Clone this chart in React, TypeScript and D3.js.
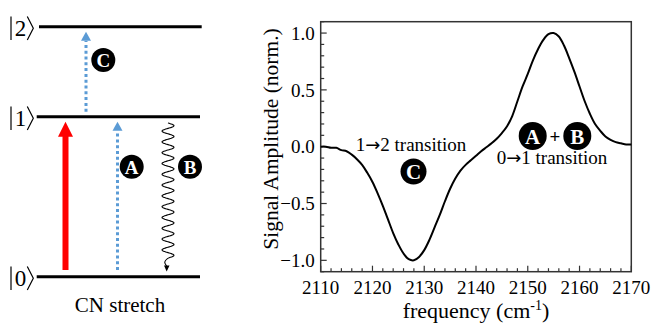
import React, { useEffect, useRef } from 'react';
import * as d3 from 'd3';

// spectrum (frequency in cm-1, normalised amplitude)
const freq = [
  2110, 2111, 2112, 2113, 2114, 2115, 2116, 2117, 2118, 2119,
  2120, 2121, 2122, 2123, 2124, 2125, 2126, 2127, 2128, 2129,
  2130, 2131, 2132, 2133, 2134, 2135, 2136, 2137, 2138, 2139,
  2140, 2141, 2142, 2143, 2144, 2145, 2146, 2147, 2148, 2149,
  2150, 2151, 2152, 2153, 2154, 2155, 2156, 2157, 2158, 2159,
  2160, 2161, 2162, 2163, 2164, 2165, 2166, 2167, 2168, 2169, 2170,
];
const amplitude = [
  0.0, 0.0, -0.01, -0.01, -0.03, -0.04, -0.07, -0.11, -0.16, -0.23,
  -0.31, -0.41, -0.52, -0.64, -0.76, -0.86, -0.94, -0.99, -1.0, -0.97,
  -0.91, -0.82, -0.71, -0.6, -0.48, -0.37, -0.28, -0.21, -0.16, -0.12,
  -0.08, -0.04, -0.005, 0.03, 0.07, 0.12, 0.18, 0.27, 0.4, 0.53,
  0.64, 0.76, 0.86, 0.94, 0.99, 1.0, 0.97, 0.89, 0.78, 0.66,
  0.53, 0.4, 0.29, 0.2, 0.14, 0.09, 0.06, 0.04, 0.03, 0.02, 0.02,
];
const xTicks = [2110, 2120, 2130, 2140, 2150, 2160, 2170];
const yTicks = [-1.0, -0.5, 0.0, 0.5, 1.0];

// energy level diagram
const levelNames = ['0', '1', '2'];
const levelEnergy = [0, 1, 1.5625];

const W = 654;
const H = 325;
const BLUE = '#5b9bd5';
const SERIF = "'Liberation Serif', 'Times New Roman', serif";

const App = () => {
  const svgRef = useRef<SVGSVGElement>(null);

  useEffect(() => {
    const svg = d3.select(svgRef.current);
    svg.selectAll('*').remove();

    // ---------- right: spectrum ----------
    const plot = { left: 320.7, right: 631.3, top: 21.7, bottom: 271.7 };
    const x = d3.scaleLinear().domain([2110, 2170]).range([plot.left, plot.right]);
    const y = d3.scaleLinear().domain([-1.1, 1.1]).range([plot.bottom, plot.top]);

    const g = svg.append('g');

    // minor + major ticks, inward, left and bottom only
    d3.range(2110, 2171, 2).forEach(v => {
      const major = v % 10 === 0;
      g.append('line')
        .attr('x1', x(v)).attr('x2', x(v))
        .attr('y1', plot.bottom).attr('y2', plot.bottom - (major ? 6 : 3.5))
        .attr('stroke', '#333').attr('stroke-width', 1.2);
    });
    d3.range(-11, 12).forEach(i => {
      const v = i / 10;
      const major = i % 5 === 0;
      g.append('line')
        .attr('x1', plot.left).attr('x2', plot.left + (major ? 6 : 3.5))
        .attr('y1', y(v)).attr('y2', y(v))
        .attr('stroke', '#333').attr('stroke-width', 1.2);
    });

    g.append('rect')
      .attr('x', plot.left).attr('y', plot.top)
      .attr('width', plot.right - plot.left).attr('height', plot.bottom - plot.top)
      .attr('fill', 'none').attr('stroke', '#333').attr('stroke-width', 1.5);

    g.selectAll('.xt').data(xTicks).enter().append('text')
      .attr('x', d => x(d)).attr('y', 294)
      .attr('text-anchor', 'middle')
      .style('font-family', SERIF).style('font-size', '19px')
      .text(d => d);

    g.selectAll('.yt').data(yTicks).enter().append('text')
      .attr('x', plot.left - 6).attr('y', d => y(d)).attr('dy', '0.35em')
      .attr('text-anchor', 'end')
      .style('font-family', SERIF).style('font-size', '19px')
      .text(d => d3.format('.1f')(d));

    const xl = g.append('text')
      .attr('x', (plot.left + plot.right) / 2).attr('y', 318)
      .attr('text-anchor', 'middle')
      .style('font-family', SERIF).style('font-size', '22px');
    xl.append('tspan').text('frequency (cm');
    xl.append('tspan').attr('dy', -8).style('font-size', '14px').text('-1');
    xl.append('tspan').attr('dy', 8).text(')');

    g.append('text')
      .attr('transform', `translate(278,139) rotate(-90)`)
      .attr('text-anchor', 'middle')
      .style('font-family', SERIF).style('font-size', '21.5px')
      .text('Signal Amplitude (norm.)');

    const pts = freq.map((f, i) => [f, amplitude[i]] as [number, number]);
    g.append('path')
      .datum(pts)
      .attr('fill', 'none')
      .attr('stroke', 'black')
      .attr('stroke-width', 2)
      .attr('d', d3.line<[number, number]>()
        .x(d => x(d[0]))
        .y(d => y(d[1]))
        .curve(d3.curveCatmullRom));

    const badge = (parent, cx, cy, r, letter, fs) => {
      parent.append('circle').attr('cx', cx).attr('cy', cy).attr('r', r).attr('fill', 'black');
      parent.append('text')
        .attr('x', cx).attr('y', cy).attr('dy', '0.36em')
        .attr('text-anchor', 'middle')
        .style('font-family', SERIF).style('font-weight', 'bold')
        .style('font-size', fs + 'px').attr('fill', 'white')
        .text(letter);
    };

    // "a→b transition" with a wider arrow glyph
    const transition = (tx, ty, a, b) => {
      const t = g.append('text')
        .attr('x', tx).attr('y', ty)
        .attr('text-anchor', 'middle')
        .style('font-family', SERIF).style('font-size', '19px');
      t.append('tspan').text(a);
      t.append('tspan').style('font-family', "'DejaVu Sans'").style('font-size', '18px').text('\u2192');
      t.append('tspan').text(b + ' transition');
    };

    transition(411, 151, '1', '2');
    badge(g, 413.5, 171.5, 13, 'C', 21);

    badge(g, 532.7, 136, 14, 'A', 21);
    g.append('text')
      .attr('x', 555).attr('y', 136).attr('dy', '0.35em')
      .attr('text-anchor', 'middle')
      .style('font-family', SERIF).style('font-weight', 'bold').style('font-size', '19px')
      .text('+');
    badge(g, 577.3, 136, 14, 'B', 21);
    transition(552, 164, '0', '1');

    // ---------- left: level diagram ----------
    const e = d3.scaleLinear().domain([0, 1]).range([276.7, 116.7]);
    const d = svg.append('g');

    levelEnergy.forEach((en, i) => {
      const ly = e(en);
      d.append('line')
        .attr('x1', i === 2 ? 39 : 36.7).attr('x2', i === 2 ? 201.7 : 200)
        .attr('y1', ly).attr('y2', ly)
        .attr('stroke', 'black').attr('stroke-width', 3);
      const cy = ly + 1.5;
      d.append('line')
        .attr('x1', 11).attr('x2', 11)
        .attr('y1', cy - 11.7).attr('y2', cy + 11.7)
        .attr('stroke', 'black').attr('stroke-width', 1.2);
      d.append('text')
        .attr('x', 20.5).attr('y', cy + 7.8)
        .attr('text-anchor', 'middle')
        .style('font-family', SERIF).style('font-size', '23px')
        .text(levelNames[i]);
      d.append('path')
        .attr('d', `M27.3,${cy - 11.7}L33.3,${cy}L27.3,${cy + 11.7}`)
        .attr('fill', 'none').attr('stroke', 'black').attr('stroke-width', 1.2);
    });

    // red pump arrow 0 -> 1
    d.append('line')
      .attr('x1', 65.5).attr('x2', 65.5)
      .attr('y1', e(0) - 6.7).attr('y2', e(1) + 18)
      .attr('stroke', 'red').attr('stroke-width', 6);
    d.append('path')
      .attr('d', `M65.5,${e(1) + 5}L73,${e(1) + 20}L58,${e(1) + 20}Z`)
      .attr('fill', 'red');

    // dotted probe arrows
    const probe = (px, y0, y1) => {
      d.append('line')
        .attr('x1', px).attr('x2', px)
        .attr('y1', y0).attr('y2', y1 + 9)
        .attr('stroke', BLUE).attr('stroke-width', 3)
        .attr('stroke-dasharray', '3 2.8');
      d.append('path')
        .attr('d', `M${px},${y1}L${px + 5},${y1 + 9}L${px - 5},${y1 + 9}Z`)
        .attr('fill', BLUE);
    };
    probe(117.5, e(0) - 6.7, e(1) + 5);
    probe(86, e(1) - 5, e(1.5625) + 5);

    // wavy relaxation B
    const wave: [number, number][] = [];
    const wy0 = 123, wy1 = 258, periods = 12.5;
    for (let t = 0; t <= 400; t++) {
      const yy = wy0 + (wy1 - wy0) * t / 400;
      wave.push([168 + 6 * Math.sin(2 * Math.PI * periods * t / 400), yy]);
    }
    wave.push([163.5, 262], [166.7, 266]);
    d.append('path')
      .attr('d', d3.line().curve(d3.curveBasis)(wave))
      .attr('fill', 'none').attr('stroke', 'black').attr('stroke-width', 1.1);
    d.append('path')
      .attr('d', `M166.7,271.5L169.5,265.5L164,265.5Z`)
      .attr('fill', 'black');

    badge(d, 103.3, 60, 12, 'C', 19);
    badge(d, 131.7, 166.7, 12, 'A', 19);
    badge(d, 190, 166.7, 12, 'B', 19);

    d.append('text')
      .attr('x', 120).attr('y', 311.5)
      .attr('text-anchor', 'middle')
      .style('font-family', SERIF).style('font-size', '21px')
      .text('CN stretch');
  }, []);

  return (
    <svg
      ref={svgRef}
      width={W}
      height={H}
      style={{ position: 'absolute', left: 0, top: 0, background: 'white' }}
    />
  );
};

export default App;
